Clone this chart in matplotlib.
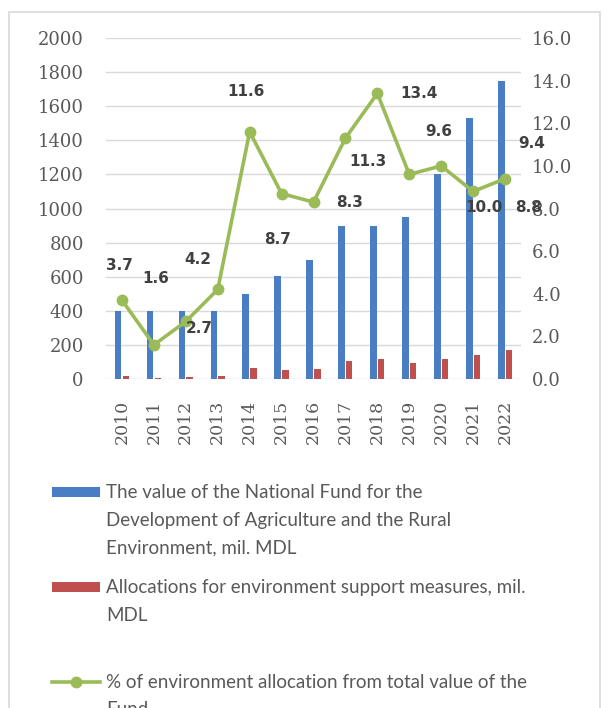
import matplotlib.pyplot as plt
from matplotlib.patches import Rectangle

years = ['2010', '2011', '2012', '2013', '2014', '2015', '2016',
         '2017', '2018', '2019', '2020', '2021', '2022']
fund = [400, 400, 400, 400, 500, 605, 700, 900, 900, 950, 1200, 1530, 1750]
alloc = [15, 6, 11, 15, 65, 53, 60, 105, 120, 95, 120, 140, 170]
share = [3.7, 1.6, 2.7, 4.2, 11.6, 8.7, 8.3, 11.3, 13.4, 9.6, 10.0, 8.8, 9.4]

# where Excel dropped each data label, in pixels from its point
label_off = [(-3, 35), (2, 66), (13, -7), (-20, 30), (-4, 40), (-4, -46),
             (36, 0), (23, -23), (42, 0), (29, 43), (43, -42), (55, -16),
             (27, 35)]

legend_lines = [
    ['The value of the National Fund for the',
     'Development of Agriculture and the Rural',
     'Environment, mil. MDL'],
    ['Allocations for environment support measures, mil.', 'MDL'],
    ['% of environment allocation from total value of the', 'Fund'],
]

blue = '#4A7EC4'
red = '#C0504D'
green = '#9BBB59'
grey = '#595959'

W, H = 610, 708
fig = plt.figure(figsize=(6.1, 7.08), dpi=100)
fig.patches.append(Rectangle((9 / W, -0.05), 591 / W, 1.05 - 12 / H,
                             transform=fig.transFigure, fill=False,
                             edgecolor='#D9D9D9', linewidth=1.2))

ax = fig.add_axes([106 / W, 1 - 379 / H, 415 / W, 341 / H])
x = list(range(len(years)))
b1 = ax.bar([i - 0.12 for i in x], fund, width=0.21, color=blue, zorder=2)
b2 = ax.bar([i + 0.12 for i in x], alloc, width=0.2, color=red, zorder=2)
ax.set_xlim(-0.5, len(years) - 0.5)
ax.set_ylim(0, 2000)
ax.set_yticks(range(0, 2001, 200))
ax.yaxis.grid(True, color='#D9D9D9', linewidth=1)
ax.set_axisbelow(True)
for s in ax.spines.values():
    s.set_visible(False)
ax.set_xticks(x)
ax.set_xticklabels(years, rotation=90)
ax.tick_params(axis='both', length=0, colors=grey)
ax.tick_params(axis='y', pad=16)
ax.tick_params(axis='x', pad=15)
for t in ax.get_yticklabels():
    t.set_family('DejaVu Serif')
    t.set_fontsize(13)
for t in ax.get_xticklabels():
    t.set_family('DejaVu Serif')
    t.set_fontsize(12.5)

ax2 = ax.twinx()
ln, = ax2.plot(x, share, color=green, linewidth=2.6, marker='o',
               markersize=7.5, zorder=3)
ax2.set_ylim(0, 16)
ax2.set_yticks(range(0, 17, 2))
ax2.set_yticklabels([f'{v:.1f}' for v in range(0, 17, 2)])
for s in ax2.spines.values():
    s.set_visible(False)
ax2.tick_params(axis='y', length=0, colors=grey, pad=8)
for t in ax2.get_yticklabels():
    t.set_family('DejaVu Serif')
    t.set_fontsize(13)

for xi, v, off in zip(x, share, label_off):
    ax2.annotate(f'{v:.1f}', (xi, v), xytext=off, textcoords='offset pixels',
                 ha='center', va='center', fontsize=11, fontweight='bold',
                 color='#404040')

# legend below the plot, handles level with the first line of each label
fs = 13.5
handles = [b1, b2, ln]
first_y = [493, 588, 682]
for h, lines, y0 in zip(handles, legend_lines, first_y):
    fig.legend([h], [''], loc='center left', bbox_to_anchor=(52 / W, 1 - y0 / H),
               frameon=False, borderpad=0, borderaxespad=0, fontsize=fs,
               handlelength=48 / (fs / 0.72), handleheight=0.45,
               handletextpad=0)
    for k, line in enumerate(lines):
        fig.text(106 / W, 1 - (y0 + 27.5 * k) / H, line, ha='left', va='center',
                 fontsize=fs, family='Lato', color=grey)

fig.savefig('out.png', dpi=100)
